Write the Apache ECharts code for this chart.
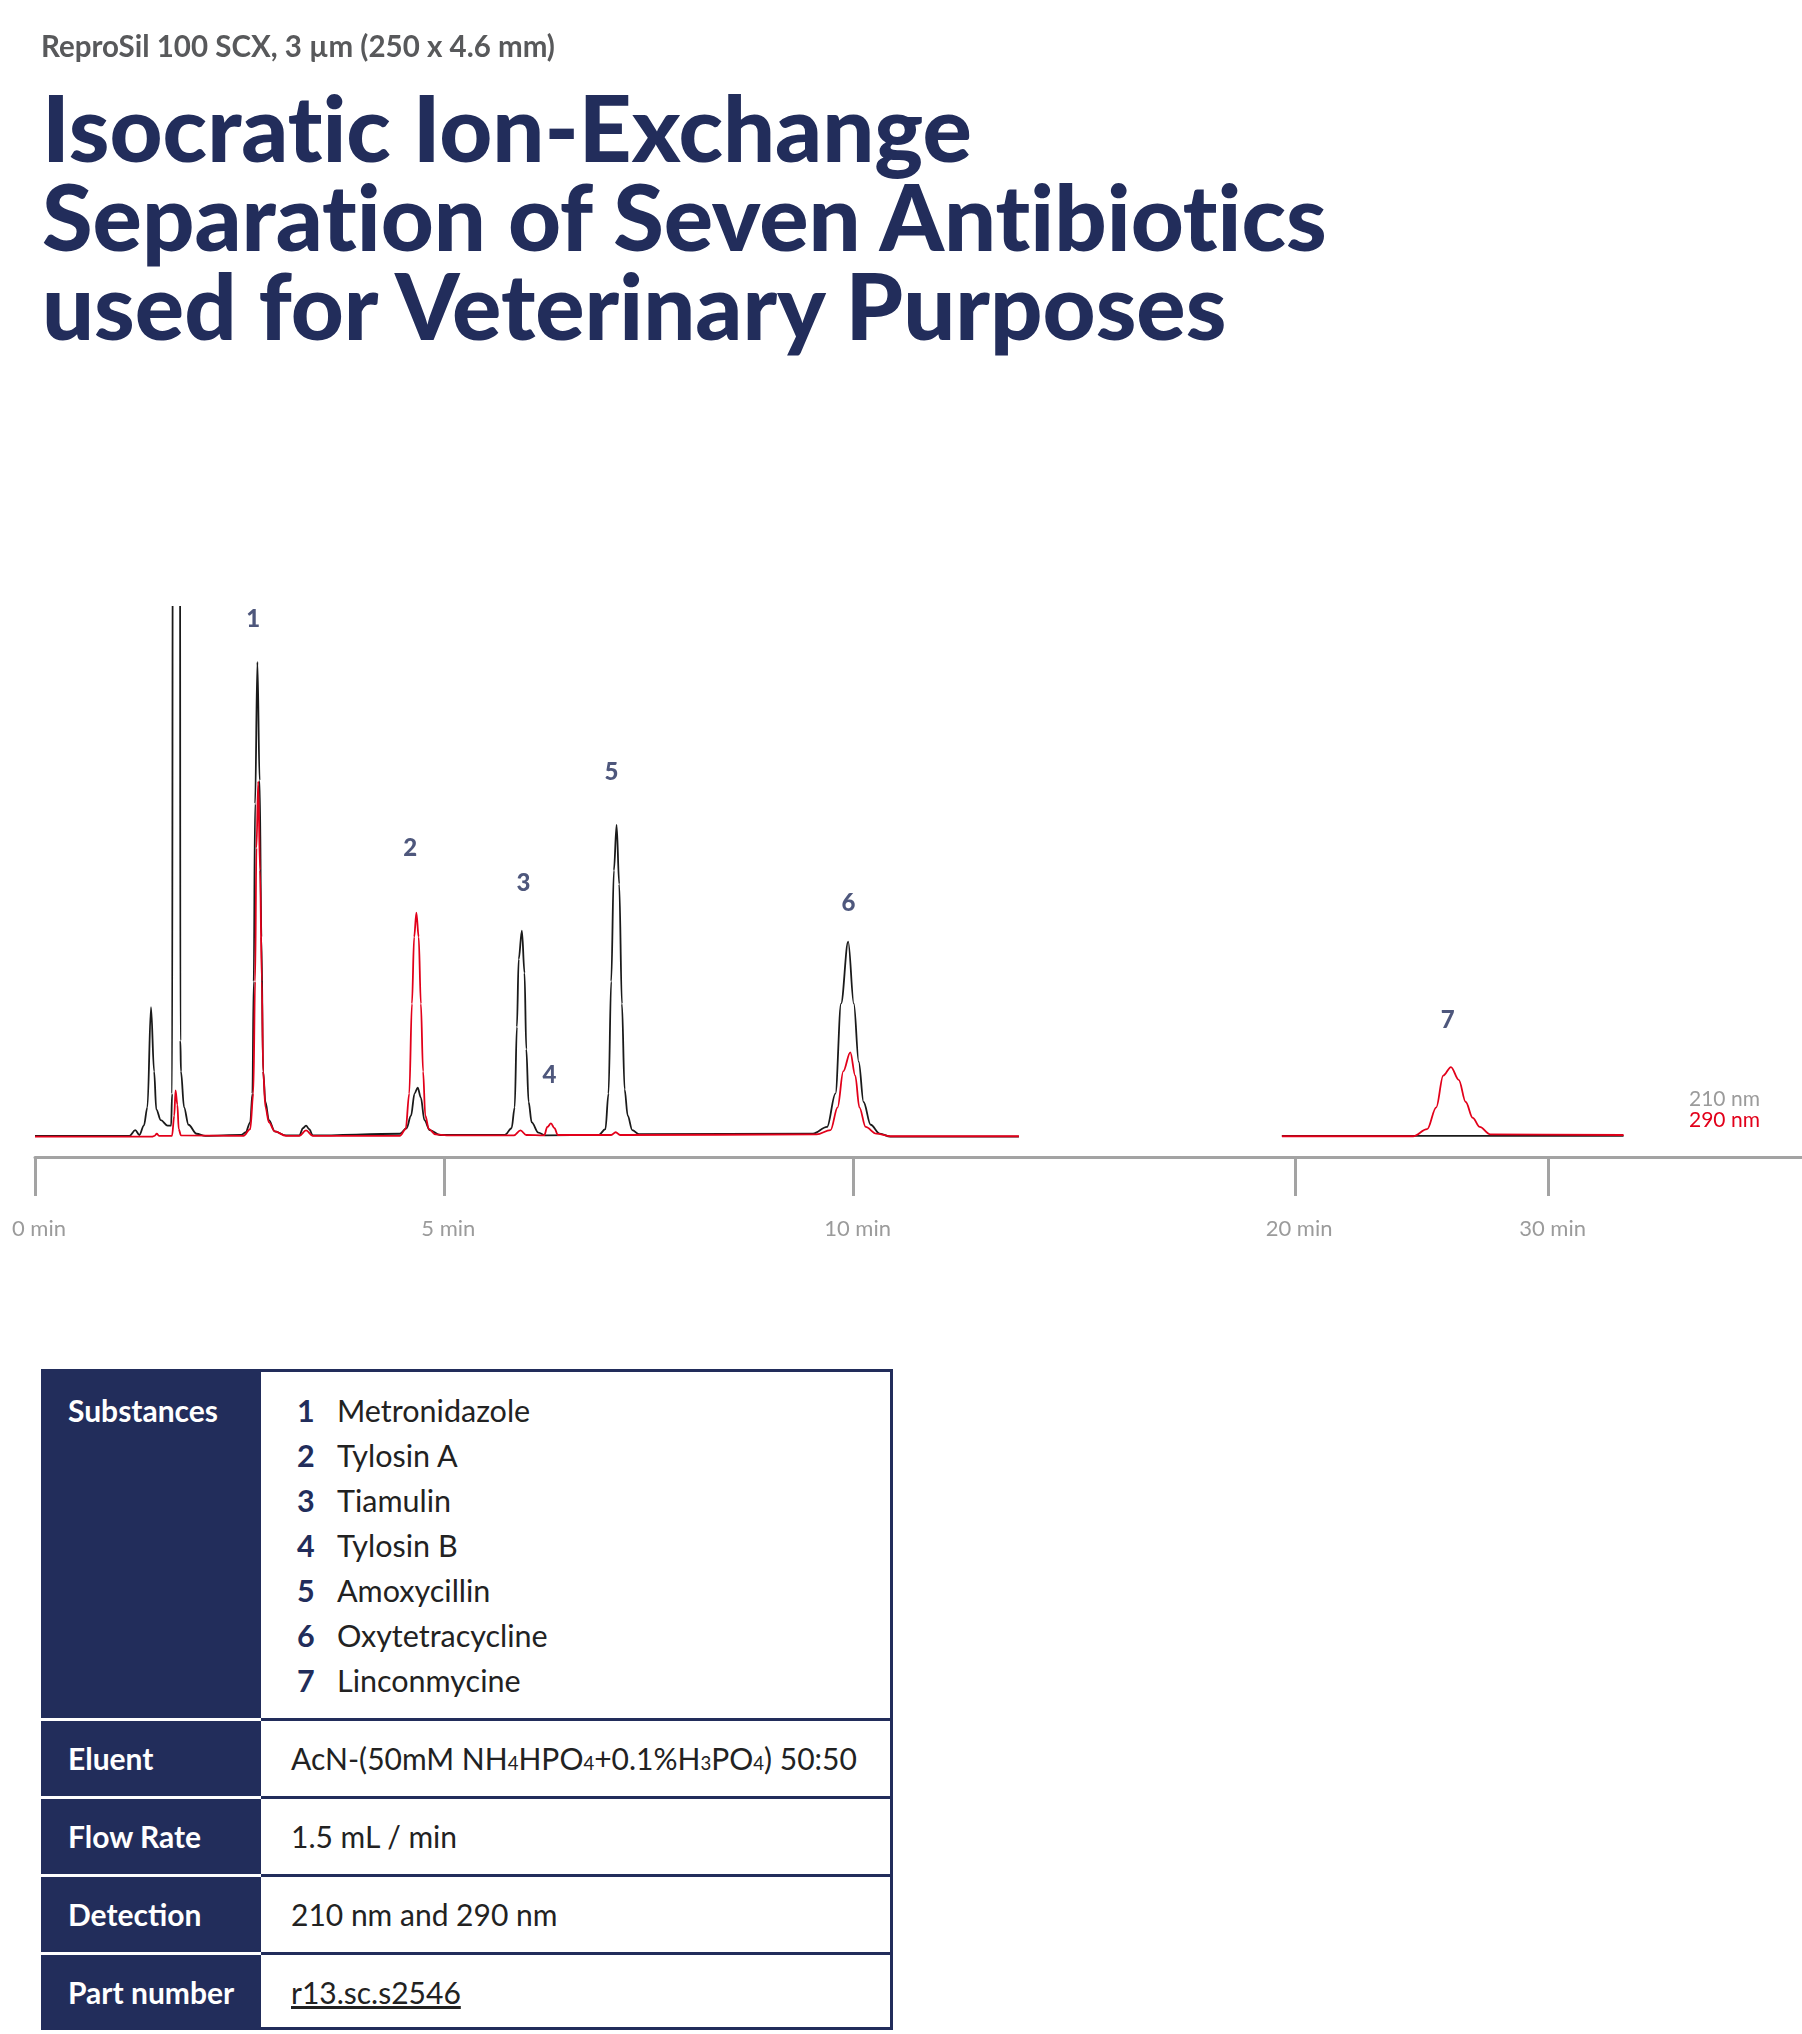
<!DOCTYPE html>
<html>
<head>
<meta charset="utf-8">
<title>ReproSil 100 SCX</title>
<script src="https://cdn.jsdelivr.net/npm/echarts@6/dist/echarts.min.js"></script>
<style>
    html, body { margin: 0; padding: 0; background: #fff; width: 1802px; height: 2034px; overflow: hidden; font-family: Lato, "Open Sans", sans-serif; }
    #chart { position: absolute; left: 0; top: 0; width: 1802px; height: 1300px; }
    .column { position: absolute; left: 41px; top: 31px; margin: 0; font-size: 29.5px; line-height: 30px; font-weight: 700; color: #58595b; white-space: nowrap; }
    h1 { position: absolute; left: 42px; top: 82px; margin: 0; font-size: 92px; line-height: 89px; font-weight: 900; color: #222d5b; font-variant-ligatures: none; white-space: nowrap; }
    .spec { position: absolute; left: 41px; top: 1369px; width: 852px; }
    .row { display: flex; }
    .row .hd { width: 220px; flex: none; background: #222d5b; color: #fff; font-weight: 700; font-size: 30px; box-sizing: border-box; padding-left: 27px; }
    .row .bd { flex: 1; box-sizing: border-box; border-right: 3px solid #222d5b; border-top: 3px solid #222d5b; color: #222; font-size: 30.5px; padding-left: 30px; }
    .row + .row .hd { border-top: 3px solid #fff; }
    .row:last-child .bd { border-bottom: 3px solid #222d5b; }
    .row.small .hd, .row.small .bd { height: 78px; line-height: 75px; }
    .row.first .hd { height: 349px; padding-top: 24px; line-height: 34px; }
    .row.first .bd { height: 349px; padding-top: 16px; padding-left: 0; }
    .row.small .bd { font-size: 30px; }
    .sub { height: 45px; line-height: 45px; }
    .sub b { display: inline-block; width: 76px; padding-left: 36px; box-sizing: border-box; color: #222d5b; }
    sub { font-size: 62%; vertical-align: 0; }
    a { color: #222; text-decoration: underline; }
</style>
</head>
<body>
<div id="chart"></div>
<p class="column">ReproSil 100 SCX, 3 µm (250 x 4.6 mm)</p>
<h1>Isocratic Ion-Exchange<br>Separation of Seven Antibiotics<br>used for Veterinary Purposes</h1>
<div class="spec" id="spec"></div>
<script>
(function () {

    'use strict';

    // 210 nm trace (black), first part of the run, [min, signal]
    var uv210Early = [
        [0, 0], [1.155, 0], [1.225, 5.5], [1.275, 0.8], [1.33, 9.7], [1.373, 27], [1.417, 121.6], [1.455, 61],
        [1.482, 25], [1.537, 14.8], [1.619, 9.7], [1.663, 9.7], [1.675, 40], [1.684, 700], [1.771, 700],
        [1.776, 90], [1.783, 61], [1.821, 27], [1.875, 10.5], [1.974, 2], [2.08, 0],
        [2.52, 0.8], [2.574, 3.4], [2.629, 12.7], [2.656, 40], [2.672, 146], [2.689, 314], [2.717, 448],
        [2.744, 336], [2.766, 188], [2.787, 61], [2.815, 32], [2.858, 14.8], [2.929, 4.2], [3.066, 0.4],
        [3.23, 0.4], [3.273, 7.2], [3.311, 9.7], [3.35, 6.3], [3.393, 0.4],
        [4.457, 2], [4.539, 7.2], [4.593, 19], [4.637, 40], [4.675, 45.6], [4.714, 36], [4.757, 14.8],
        [4.823, 5.5], [4.948, 0.8],
        [5.74, 0.8], [5.822, 7.2], [5.86, 27], [5.887, 103], [5.909, 167], [5.948, 194], [5.98, 154],
        [6.002, 82], [6.03, 32], [6.068, 12.7], [6.15, 3], [6.232, 0.4],
        [6.886, 0.8], [6.968, 6.3], [7.006, 40], [7.039, 146], [7.072, 251], [7.105, 294], [7.137, 238],
        [7.17, 125], [7.203, 44], [7.241, 19], [7.296, 5.5], [7.378, 1.7],
        [9.504, 2.1], [9.676, 8.4], [9.779, 40], [9.847, 125], [9.934, 183.6], [10.003, 125], [10.063, 70],
        [10.122, 32], [10.209, 10.5], [10.32, 2.1], [10.449, -0.8], [12.02, -0.8]
    ];

    // 290 nm trace (red), first part of the run
    var uv290Early = [
        [0, -0.8], [1.43, -0.8], [1.46, 0], [1.488, 2], [1.515, 0], [1.674, 0], [1.701, 19], [1.717, 43],
        [1.739, 29.5], [1.756, 6.3], [1.783, 0.4],
        [2.547, 0], [2.629, 6.3], [2.667, 40], [2.689, 146], [2.705, 272], [2.727, 335], [2.749, 251],
        [2.771, 146], [2.787, 61], [2.815, 27], [2.858, 12.7], [2.929, 4.2], [3.066, 0],
        [3.23, 0], [3.311, 5.1], [3.393, 0],
        [4.457, 0], [4.528, 6.3], [4.572, 40], [4.605, 125], [4.632, 188], [4.659, 211], [4.687, 188],
        [4.714, 125], [4.741, 61], [4.768, 19], [4.812, 6.3], [4.894, 1.3], [5.03, 0.4],
        [5.85, 0.4], [5.931, 5.1], [6.002, 0.8],
        [6.22, 0.4], [6.259, 8.4], [6.303, 11.8], [6.347, 7.2], [6.385, 0.8],
        [7.039, 0.8], [7.094, 3.4], [7.148, 0.8],
        [9.548, 1.3], [9.719, 5.5], [9.805, 27], [9.874, 61], [9.96, 79], [10.02, 57], [10.071, 27],
        [10.148, 8.4], [10.277, 2.1], [10.449, -0.4], [12.02, -0.4]
    ];

    // late part of the run (after the axis break)
    var uv210Late = [[19.48, 0], [32.96, 0]];
    var uv290Late = [
        [19.48, -0.4], [24.655, -0.4], [25.21, 6.3], [25.57, 27], [25.845, 57], [26.15, 65], [26.457, 53],
        [26.733, 32], [27.01, 17], [27.285, 8.4], [27.7, 1.3], [32.96, 0.8]
    ];

    // 峰编号
    var peakNumbers = ['1', '2', '3', '4', '5', '6', '7'];
    var peakLabelTimes = [2.665, 4.584, 5.966, 6.284, 7.042, 9.939, 26.02];
    var peakLabelLevels = [488, 272, 239, 57, 344, 220, 109];

    var ticksEarly = [0, 5, 10];
    var ticksLate = [20, 30];
    var tickUnit = 'min';

    var substances = ['Metronidazole', 'Tylosin A', 'Tiamulin', 'Tylosin B', 'Amoxycillin', 'Oxytetracycline', 'Linconmycine'];
    var conditions = [
        ['Eluent', 'AcN-(50mM NH<sub>4</sub>HPO<sub>4</sub>+0.1%H<sub>3</sub>PO<sub>4</sub>) 50:50'],
        ['Flow Rate', '1.5 mL / min'],
        ['Detection', '210 nm and 290 nm'],
        ['Part number', '<a>r13.sc.s2546</a>']
    ];

    var navy = '#222d5b',
        axisGrey = '#a3a3a3',
        labelGrey = '#9b9b9b',
        black = '#1a1a1a',
        red = '#e2001a';

    var earlyLabels = [], lateLabels = [];
    peakNumbers.forEach(function (n, i) {
        var p = [peakLabelTimes[i], peakLabelLevels[i], n];
        if (peakLabelTimes[i] < 15) earlyLabels.push(p); else lateLabels.push(p);
    });

    function timeAxis(gridIndex, min, max, ticks) {
        return {
            type: 'value', gridIndex: gridIndex, min: min, max: max,
            axisLine: { onZero: false, lineStyle: { color: axisGrey, width: 3 } },
            axisTick: { customValues: ticks, length: 39, lineStyle: { color: axisGrey, width: 3 } },
            axisLabel: {
                customValues: ticks, margin: 61, color: labelGrey, fontSize: 22, fontFamily: 'Lato',
                padding: [0, 0, 0, 8],
                formatter: function (v) { return v + ' ' + tickUnit; }
            },
            splitLine: { show: false }
        };
    }

    function signalAxis(gridIndex) {
        return { type: 'value', gridIndex: gridIndex, min: -20, max: 500, show: false };
    }

    function trace(name, data, idx, color) {
        return {
            name: name, type: 'line', data: data, xAxisIndex: idx, yAxisIndex: idx,
            symbol: 'none', smooth: 0.35, smoothMonotone: 'x', animation: false,
            lineStyle: { color: color, width: 1.8 }, itemStyle: { color: color }
        };
    }

    function peakLabels(data, idx) {
        return {
            type: 'scatter', data: data, xAxisIndex: idx, yAxisIndex: idx, symbolSize: 1,
            itemStyle: { color: 'rgba(0,0,0,0)' }, silent: true, animation: false,
            label: {
                show: true, position: 'inside', color: navy, fontSize: 24, fontWeight: 900, fontFamily: 'Lato',
                formatter: function (p) { return p.data[2]; }
            }
        };
    }

    var myChart = echarts.init(document.getElementById('chart'), null, { renderer: 'canvas' });

    var option = {
        backgroundColor: 'rgba(0,0,0,0)',
        legend: {
            left: 1679, top: 1084, orient: 'vertical', icon: 'none', itemWidth: 0, itemHeight: 10, itemGap: 0,
            selectedMode: false,
            textStyle: { fontSize: 21, fontFamily: 'Lato', lineHeight: 21 },
            data: [
                { name: '210 nm', textStyle: { color: labelGrey } },
                { name: '290 nm', textStyle: { color: red } }
            ]
        },
        grid: [
            { left: 35, top: 607, width: 1146, height: 550 },
            { left: 1181, top: 607, width: 621, height: 550 }
        ],
        xAxis: [timeAxis(0, 0, 14, ticksEarly), timeAxis(1, 15.5, 40, ticksLate)],
        yAxis: [signalAxis(0), signalAxis(1)],
        series: [
            trace('210 nm', uv210Early, 0, black),
            trace('290 nm', uv290Early, 0, red),
            trace('210 nm', uv210Late, 1, black),
            trace('290 nm', uv290Late, 1, red),
            peakLabels(earlyLabels, 0),
            peakLabels(lateLabels, 1)
        ]
    };

    myChart.setOption(option);

    // 条件表格
    var subHtml = '';
    substances.map(function (name, i) {
        subHtml += '<div class="sub"><b>' + (i + 1) + '</b>' + name + '</div>';
    });

    var html = '<div class="row first"><div class="hd">Substances</div><div class="bd">' + subHtml + '</div></div>';
    conditions.map(function (item) {
        html += '<div class="row small"><div class="hd">' + item[0] + '</div><div class="bd">' + item[1] + '</div></div>';
    });
    document.getElementById('spec').innerHTML = html;
})();
</script>
</body>
</html>
